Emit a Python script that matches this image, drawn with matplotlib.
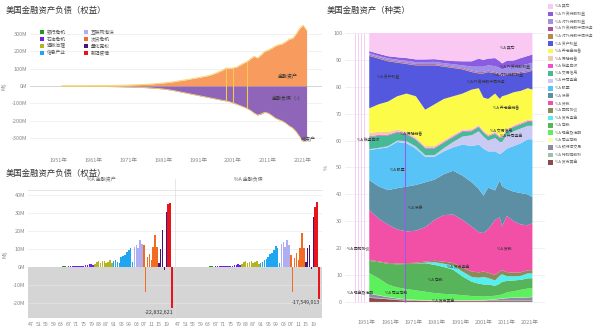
import numpy as np
import matplotlib
matplotlib.use("Agg")
import matplotlib.pyplot as plt
from matplotlib.patches import Rectangle
from matplotlib.lines import Line2D

plt.rcParams["font.family"] = ["Noto Sans CJK SC", "DejaVu Sans"]
plt.rcParams["axes.unicode_minus"] = False

W, H = 600, 328
TICK_C = "#8a8a8a"
TXT_C = "#333333"
GRID_C = "#ececec"

# ── 金融资产 / 负债存量 (M$) ─────────────────────────────────────────
stock_years = list(range(1952, 2023))
assets = [
    1.0, 1.1, 1.2, 1.3, 1.4, 1.5, 1.6, 1.75,
    1.9, 2.1, 2.3, 2.5, 2.8, 3.1, 3.4, 3.8, 4.2, 4.6,
    5.0, 5.6, 6.3, 7.0, 7.6, 8.4, 9.4, 10.6, 12.0, 13.6,
    15.4, 17.2, 19.3, 21.8, 24.2, 27.6, 31.0, 34.0, 37.2, 41.0,
    44.0, 48.0, 51.5, 56.0, 59.5, 66.0, 73.0, 82.0, 91.0, 103.0,
    101.0, 103.0, 108.0, 120.0, 131.0, 140.0, 156.0, 170.0, 160.0, 178.0,
    198.0, 205.0, 216.0, 228.0, 236.0, 241.0, 253.0, 268.0, 272.0, 298.0,
    330.0, 348.0, 318.0,
]
liabilities = [
    -0.9, -1.0, -1.1, -1.2, -1.3, -1.4, -1.5, -1.6,
    -1.75, -1.9, -2.1, -2.3, -2.6, -2.9, -3.2, -3.5, -3.9, -4.3,
    -4.8, -5.3, -5.9, -6.6, -7.4, -8.2, -9.2, -10.4, -11.8, -13.4,
    -15.0, -17.0, -19.5, -22.5, -26.0, -30.0, -34.0, -38.0, -42.0, -46.0,
    -50.0, -54.0, -58.0, -62.0, -66.0, -70.0, -74.0, -78.0, -82.0, -85.0,
    -90.0, -97.0, -104.0, -112.0, -120.0, -128.0, -140.0, -155.0, -166.0, -160.0,
    -150.0, -155.0, -168.0, -183.0, -192.0, -200.0, -212.0, -228.0, -240.0, -261.0,
    -290.0, -318.0, -300.0,
]
spike_years = [1999, 2001, 2005]

# ── 年度增减 (M$) ────────────────────────────────────────────────────
bar_years = list(range(1947, 2023))
chg_assets = [
    0.05, 0.08, 0.06, 0.1, 0.12, 0.1, 0.1, 0.15, 0.18, 0.15, 0.12, 0.2, 0.22, 0.18, 0.25, 0.28, 0.3, 0.35, 0.38,
    0.3, 0.4, 0.45, 0.35, 0.4, 0.6, 0.8, 0.6, 0.5, 0.7, 0.9, 1.2, 1.5, 1.7, 1.4,
    1.9, 2.8, 3.3, 2.2, 3.1, 3.3, 2.4, 2.9, 3.7, 2.0,
    3.2, 3.7, 2.8, 2.2, 5.5, 6.0, 6.5, 8.3, 9.6, 10.7, 2.8,
    11.0, 12.2, 10.7, 14.8, 13.0,
    12.0, -13.9, 5.5, 7.4, 3.7, 11.0, 18.0, 11.0,
    2.2, 10.2, 20.4, -1.5, 30.6,
    35.2, 35.4, -22.832621,
]
chg_liab = [
    0.04, 0.07, 0.05, 0.09, 0.1, 0.1, 0.09, 0.13, 0.16, 0.14, 0.12, 0.18, 0.2, 0.17, 0.23, 0.26, 0.28, 0.32, 0.35,
    0.28, 0.38, 0.42, 0.33, 0.38, 0.55, 0.75, 0.6, 0.5, 0.65, 0.85, 1.1, 1.4, 1.6, 1.35,
    1.8, 2.6, 3.1, 2.1, 2.9, 3.2, 2.3, 2.8, 3.5, 1.9,
    2.4, 3.0, 3.9, 4.5, 5.4, 7.2, 8.0, 9.4, 11.7, 10.5, 2.5,
    12.8, 14.0, 11.0, 15.0, 12.2,
    6.7, -13.7, 5.0, 8.0, 4.0, 10.5, 19.0, 10.5,
    3.0, 10.5, 12.2, -1.0, 28.0,
    33.5, 36.0, -17.549013,
]

era_labels = ["银行危机", "石油危机", "通胀治理", "信息产业",
              "互联网泡沫", "次贷危机", "量化宽松", "新冠疫情"]
era_colors = ["#1f9a1f", "#6a22e6", "#b3b324", "#1ea6f0",
              "#aeaef0", "#f26b21", "#4b1279", "#e8141c"]
era_start = [1947, 1966, 1981, 1991, 2002, 2007, 2015, 2020]

# ── 资产种类构成 ─────────────────────────────────────────────────────
mix_years = [1952, 1956, 1960, 1964, 1968, 1972, 1976, 1980, 1984, 1988, 1992, 1996,
             1999, 2001, 2003, 2006, 2008, 2009, 2011, 2014, 2017, 2020, 2022]
mix = {
    "%A 其它":          [6.7, 7.7, 8.6, 9.0, 9.3, 9.8, 9.8, 9.7, 10.1, 10.4, 10.5, 10.5, 9.5, 10.0, 9.5, 9.3, 10.5, 11.3, 10.3, 10.2, 9.3, 8.5, 8.0],
    "%A 外资持股权益":    [0.8, 0.8, 0.8, 0.9, 1.0, 1.0, 1.0, 1.0, 1.1, 1.2, 1.5, 2.0, 3.0, 2.5, 2.5, 3.0, 2.5, 2.2, 2.5, 2.5, 2.8, 3.0, 3.0],
    "%A 对外持股权益":    [0.5, 0.5, 0.6, 0.6, 0.7, 0.7, 0.7, 0.8, 0.8, 0.9, 1.0, 1.5, 2.0, 2.0, 2.0, 2.2, 2.0, 2.0, 2.2, 2.3, 2.4, 2.5, 2.5],
    "%A 外资持股中间债务": [0.3] * 23,
    "%A 对外持股中间债务": [0.2] * 23,
    "%A 资产权益":       [19.5, 17.0, 15.0, 12.5, 11.0, 11.5, 16.5, 14.5, 12.0, 10.5, 9.0, 6.5, 5.5, 9.0, 10.0, 7.5, 9.0, 7.5, 7.5, 6.5, 6.5, 6.0, 7.0],
    "%A 养老金储备":      [9.2, 10.2, 11.3, 12.4, 14.2, 15.3, 13.5, 15.5, 15.4, 14.3, 13.4, 14.7, 13.7, 12.2, 13.2, 14.2, 13.7, 14.7, 12.7, 12.2, 11.7, 11.7, 11.2],
    "%A 保险储备":       [1.2, 1.2, 1.0, 0.8, 0.7, 0.6, 0.6, 0.6, 0.6, 0.6, 0.5, 0.5, 0.5, 0.5, 0.5, 0.5, 0.5, 0.5, 0.5, 0.5, 0.5, 0.5, 0.5],
    "%A 税务应收":       [0.3] * 23,
    "%A 交易信用":       [4.5, 4.5, 4.0, 3.0, 2.5, 2.5, 2.5, 2.5, 2.0, 1.8, 1.8, 1.5, 1.5, 1.5, 1.5, 1.5, 1.5, 1.5, 1.5, 1.5, 1.5, 1.5, 1.5],
    "%A 共同基金":       [0.3, 0.3, 0.4, 0.5, 0.8, 0.8, 0.6, 0.6, 1.2, 2.0, 3.0, 4.0, 5.0, 4.5, 4.0, 5.0, 4.5, 4.0, 5.0, 5.5, 5.5, 5.0, 5.0],
    "%A 股票":          [11.2, 14.0, 15.9, 17.2, 16.1, 13.5, 9.5, 8.5, 8.5, 8.7, 11.5, 13.5, 16.5, 17.5, 13.5, 14.5, 9.7, 12.5, 15.0, 17.0, 18.5, 20.5, 21.5],
    "%A 债券":          [11.1, 12.0, 12.8, 15.3, 16.7, 17.0, 16.7, 15.0, 15.2, 16.3, 16.5, 16.5, 16.0, 13.9, 15.5, 11.0, 13.8, 15.0, 10.0, 11.0, 11.7, 11.5, 9.7],
    "%A 贷款":          [18.6, 15.9, 14.3, 12.7, 11.8, 11.9, 12.8, 15.2, 17.3, 18.0, 17.7, 16.7, 15.0, 14.3, 16.1, 20.5, 20.1, 16.2, 20.9, 19.1, 17.8, 16.7, 17.5],
    "%A 回购协议":       [0.3, 0.3, 0.3, 0.3, 0.3, 0.3, 0.4, 0.5, 0.8, 1.0, 1.5, 2.0, 2.0, 2.0, 2.0, 2.0, 1.6, 1.5, 1.5, 1.4, 1.3, 1.2, 1.2],
    "%A 货币基金":       [0.0, 0.0, 0.0, 0.0, 0.0, 0.0, 0.2, 1.0, 1.2, 1.5, 1.8, 1.8, 2.2, 2.8, 2.4, 2.0, 3.0, 2.8, 1.8, 1.5, 1.5, 1.8, 1.8],
    "%A 存款":          [4.6, 6.0, 7.7, 8.6, 9.3, 10.0, 10.6, 10.5, 10.0, 9.2, 7.0, 5.3, 4.7, 4.5, 4.4, 3.7, 4.2, 4.7, 4.3, 4.0, 3.7, 3.8, 3.6],
    "%A 现金及活期":      [7.5, 6.3, 4.6, 4.0, 3.8, 3.5, 3.1, 2.6, 2.3, 2.1, 1.8, 1.5, 1.4, 1.3, 1.3, 1.3, 1.4, 1.5, 2.0, 2.4, 2.8, 3.2, 3.3],
    "%A 同业存款":       [0.1] * 23,
    "%A 银行间交易":      [1.4, 0.9, 0.6, 0.4, 0.2, 0.1, 0.05, 0.1, 0.1, 0.1, 0.1, 0.1, 0.1, 0.1, 0.2, 0.4, 0.6, 0.7, 0.9, 1.0, 1.1, 1.2, 1.3],
    "%A 特别提款权":      [0.2] * 23,
    "%A 货币黄金":       [1.5, 1.3, 1.0, 0.7, 0.5, 0.4, 0.35, 0.3, 0.3, 0.3, 0.3, 0.3, 0.3, 0.3, 0.3, 0.3, 0.3, 0.3, 0.3, 0.3, 0.3, 0.3, 0.3],
}
mix_colors = ["#f9c8f3", "#8a5ce2", "#a08fe6", "#b04ba6", "#b98a4c", "#5458df",
              "#fcfc48", "#f4cbaa", "#ef4fd5", "#46b996", "#cacaf4", "#57c3f6",
              "#5c8ea4", "#f24fa6", "#8c8a58", "#55efef", "#57b45b", "#5cf05c",
              "#fbfbab", "#8b8ba4", "#9cc1a9", "#8c4a4a"]


fig = plt.figure(figsize=(W / 100, H / 100), dpi=100, facecolor="white")


def px_axes(x0, y0, x1, y1):
    return fig.add_axes([x0 / W, 1 - y1 / H, (x1 - x0) / W, (y1 - y0) / H])


def fig_text(x, y, s, **kw):
    fig.text(x / W, 1 - y / H, s, **kw)


def clean(ax):
    for sp in ax.spines.values():
        sp.set_visible(False)
    ax.tick_params(length=0, labelsize=4, colors=TICK_C, pad=2)


def era_of(year):
    idx = 0
    for i, start in enumerate(era_start):
        if year >= start:
            idx = i
    return era_colors[idx]


# ── 左上：存量面积图 ─────────────────────────────────────────────────
fig_text(6, 10, "美国金融资产负债（权益）", fontsize=6, color=TXT_C, va="center")
ax1 = px_axes(30, 22, 322, 150)
clean(ax1)
ax1.set_xlim(1943, 2026.4)
ax1.set_ylim(-366, 366)
ax1.set_yticks([-300, -200, -100, 0, 100, 200, 300])
ax1.set_yticklabels([f"{v}M" for v in [-300, -200, -100, 0, 100, 200, 300]])
ax1.set_xticks(list(range(1951, 2022, 10)))
ax1.set_xticklabels([f"{y}年" for y in range(1951, 2022, 10)])
ax1.tick_params(axis="x", pad=6)
ax1.grid(axis="y", color=GRID_C, lw=0.5)
ax1.set_axisbelow(True)
ax1.fill_between(stock_years, 0, assets, color="#f89b5f", lw=0, zorder=2)
ax1.fill_between(stock_years, liabilities, 0, color="#8e65b8", lw=0, zorder=2)
ax1.plot(stock_years, assets, color="#f7d36a", lw=0.6, zorder=3)
ax1.plot(stock_years, liabilities, color="#f7d36a", lw=0.6, zorder=3)
for y in spike_years:
    i = stock_years.index(y)
    ax1.vlines(y, liabilities[i], assets[i], color="#f7c94a", lw=0.8, zorder=3)
ax1.axhline(0, color="#d0d0d0", lw=0.6, zorder=1)
ax1.set_ylabel("M$", fontsize=4, color=TICK_C, labelpad=4)
ax1.text(2016.5, 55, "金融资产", fontsize=3.6, color=TXT_C, ha="center", va="center", zorder=4)
ax1.text(2016.5, -75, "金融负债（-）", fontsize=3.6, color=TXT_C, ha="center", va="center", zorder=4)
ax1.text(2020.3, -305, "纯资产", fontsize=3.6, color=TXT_C, ha="left", va="center", zorder=4)

# 时期图例
for k, (lab, col) in enumerate(zip(era_labels, era_colors)):
    col_x = 40 if k < 4 else 84
    row_y = 32 + (k % 4) * 7
    fig.patches.append(Rectangle(((col_x) / W, 1 - (row_y + 2.2) / H), 4.4 / W, 4.4 / H,
                                 transform=fig.transFigure, color=col, lw=0))
    fig_text(col_x + 6.5, row_y, lab, fontsize=3.4, color="#555555", va="center")

# ── 左下：年度增减柱状图（分面） ────────────────────────────────────
fig_text(6, 173, "美国金融资产负债（权益）", fontsize=6, color=TXT_C, va="center")
facets = [("%A 金融资产", chg_assets, 28, 175), ("%A 金融负债", chg_liab, 175, 322)]
for n, (title, vals, x0, x1) in enumerate(facets):
    ax = px_axes(x0, 190, x1, 318)
    clean(ax)
    ax.set_xlim(1945.4, 2023.6)
    ax.set_ylim(-28.3, 42.8)
    ax.axhspan(-28.3, 0, color="#d5d5d5", lw=0, zorder=0)
    for gy in [-20, -10]:
        ax.axhline(gy, color="#e4e4e4", lw=0.5, zorder=0.5)
    for gy in [10, 20, 30, 40]:
        ax.axhline(gy, color=GRID_C, lw=0.5, zorder=0.5)
    ax.bar(bar_years, vals, width=0.8, color=[era_of(y) for y in bar_years], lw=0, zorder=2)
    ax.set_xticks(list(range(1947, 2020, 4)))
    ax.set_xticklabels([f"{y % 100:02d}" for y in range(1947, 2020, 4)])
    ax.tick_params(axis="x", pad=3, labelsize=3.8)
    if n == 0:
        ax.set_yticks([-20, -10, 0, 10, 20, 30, 40])
        ax.set_yticklabels([f"{v}M" for v in [-20, -10, 0, 10, 20, 30, 40]])
        ax.set_ylabel("M$", fontsize=4, color=TICK_C, labelpad=4)
    else:
        ax.set_yticks([])
    ax.spines["top"].set_visible(True)
    ax.spines["top"].set_color("#dddddd")
    ax.spines["top"].set_linewidth(0.5)
    ax.text(0.5, 1.06, title, transform=ax.transAxes, fontsize=3.6,
            color="#666666", ha="center", va="bottom")
    last = vals[-1]
    ax.text(bar_years[-1] + 0.5, last - 0.8, f"{last * 1e6:,.0f}", fontsize=3.8,
            color=TXT_C, ha="right", va="top", zorder=3)
fig.add_artist(Line2D([175 / W, 175 / W], [1 - 318 / H, 1 - 179 / H],
                      transform=fig.transFigure, color="#dddddd", lw=0.5))

# ── 右：资产种类构成（百分比堆积） ─────────────────────────────────
fig_text(327, 10, "美国金融资产（种类）", fontsize=6, color=TXT_C, va="center")
ax3 = px_axes(345, 25, 545, 310)
clean(ax3)
ax3.set_xlim(1941.6, 2027.4)
ax3.set_ylim(-3, 103)
ax3.set_yticks(list(range(0, 101, 10)))
ax3.set_xticks(list(range(1951, 2022, 10)))
ax3.set_xticklabels([f"{y}年" for y in range(1951, 2022, 10)])
ax3.tick_params(axis="x", pad=7)
ax3.grid(axis="y", color=GRID_C, lw=0.5)
ax3.set_axisbelow(True)
ax3.set_ylabel("%", fontsize=4, color=TICK_C, labelpad=3)

names = list(mix.keys())
raw = np.array([mix[k] for k in names])
pct = raw / raw.sum(axis=0) * 100
ax3.stackplot(mix_years, pct[::-1], colors=mix_colors[::-1], lw=0, zorder=2)
ax3.vlines([1946.0, 1947.2, 1948.4, 1949.7], 0, 100, color="#f3c6ef", lw=0.6, zorder=2)
ax3.vlines(1967.5, 0, 63, color="#9a5ce8", lw=0.8, zorder=3)

in_labels = [
    ("%A 其它", 2008, 94.4), ("%A 外资持股权益", 2008, 87.4),
    ("%A 对外持股权益", 2005, 84.4), ("%A 外资持股中间债务", 1994, 81.8),
    ("%A 资产权益", 1955.3, 83.6), ("%A 养老金储备", 2005, 72.0),
    ("%A 交易信用", 2004, 63.6), ("%A 共同基金", 2008, 61.3),
    ("%A 保险储备", 1965, 62.5), ("%A 税务应收", 1946.7, 60.2),
    ("%A 股票", 1961, 49.0), ("%A 债券", 1968.6, 35.0),
    ("%A 贷款", 2006.8, 20.0), ("%A 回购协议", 1942.4, 19.7),
    ("%A 货币基金", 1985.3, 13.0), ("%A 存款", 1977, 8.2),
    ("%A 现金及活期", 1942.4, 3.3), ("%A 同业存款", 1958.7, 3.3),
    ("%A 货币黄金", 1979, 0.4),
]
for s, x, y in in_labels:
    ax3.text(x, y, s, fontsize=2.8, color=TXT_C, ha="left", va="center", zorder=4)

for k, (lab, col) in enumerate(zip(names, mix_colors)):
    row_y = 6.7 + k * 7.41
    fig.patches.append(Rectangle((548 / W, 1 - (row_y + 2.3) / H), 4.6 / W, 4.6 / H,
                                 transform=fig.transFigure, color=col, lw=0))
    fig_text(555, row_y, lab, fontsize=2.8, color="#666666", va="center")

fig.savefig("out.png", dpi=100, facecolor="white")
